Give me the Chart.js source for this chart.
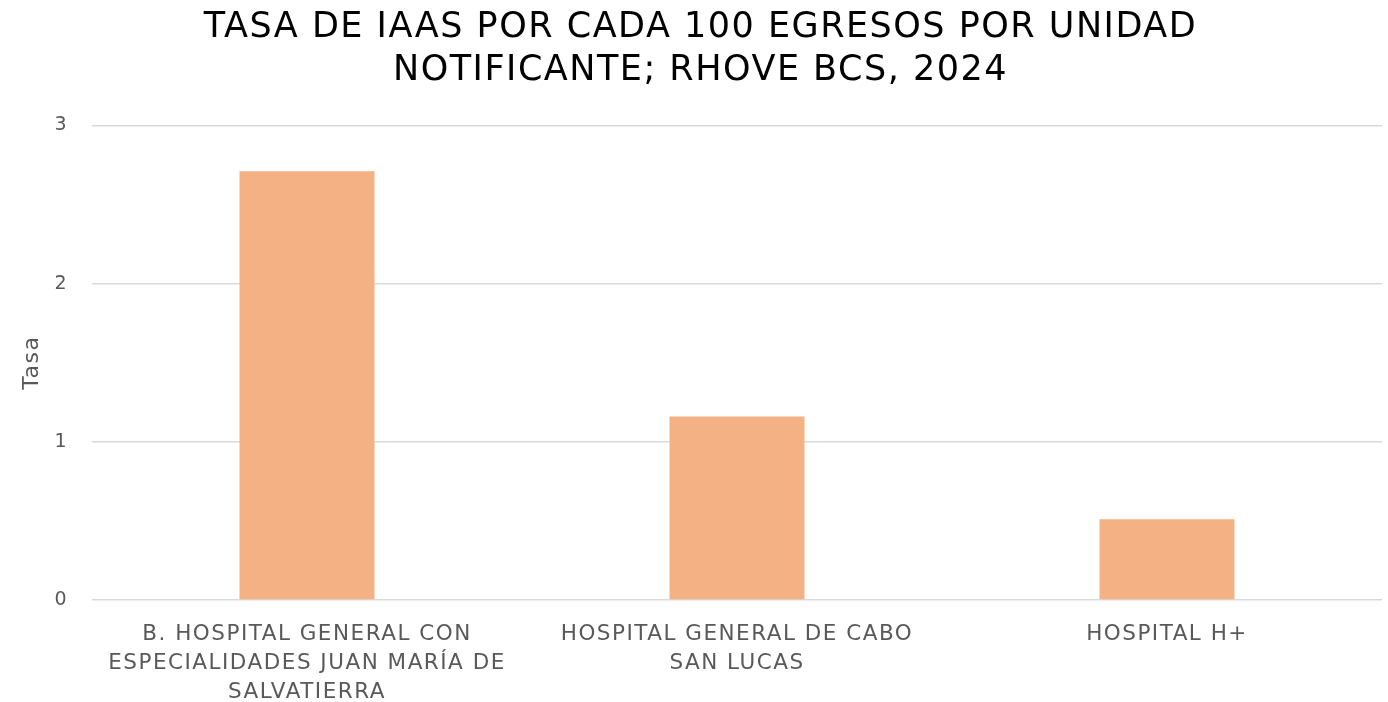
<!DOCTYPE html>
<html>
<head>
<meta charset="utf-8">
<script src="https://cdn.jsdelivr.net/npm/chart.js@4"></script>
<style>
  html, body { margin: 0; padding: 0; background: #ffffff; }
  #wrap { width: 1388px; height: 702px; position: relative; }
</style>
</head>
<body>
<div id="wrap"><canvas id="chart"></canvas></div>
<script>
// Data
const unidades = [
  ["B. HOSPITAL GENERAL CON", "ESPECIALIDADES JUAN MARÍA DE", "SALVATIERRA"],
  ["HOSPITAL GENERAL DE CABO", "SAN LUCAS"],
  ["HOSPITAL H+"],
];
const tasas = [2.71, 1.16, 0.51];
const yTicks = [0, 1, 2, 3];

const FONT = "'DejaVu Sans', 'Open Sans', sans-serif";
const GRID = "#d9d9d9";
const TEXT = "#595959";

// the original font is wider than DejaVu, so space the letters out a bit
const wideText = {
  id: "wideText",
  beforeLayout(chart) {
    chart.ctx.letterSpacing = "1.5px";
  },
  beforeDraw(chart) {
    chart.ctx.letterSpacing = "1.5px";
  },
};

const ctx = document.getElementById("chart").getContext("2d");
new Chart(ctx, {
  type: "bar",
  data: {
    labels: unidades,
    datasets: [
      {
        label: "Tasa",
        data: tasas,
        backgroundColor: "#f4b183",
        borderWidth: 0,
        categoryPercentage: 1,
        barPercentage: 0.314,
      },
    ],
  },
  plugins: [wideText],
  options: {
    responsive: true,
    maintainAspectRatio: false,
    animation: false,
    layout: {
      padding: { top: 7, right: 6, bottom: 0, left: 19 },
    },
    scales: {
      y: {
        min: yTicks[0],
        max: yTicks[yTicks.length - 1],
        afterBuildTicks: (axis) => {
          axis.ticks = yTicks.map((v) => ({ value: v }));
        },
        afterFit: (axis) => {
          axis.width = 73;
        },
        border: { display: false },
        grid: { color: GRID, lineWidth: 1.5, drawTicks: false },
        ticks: {
          color: TEXT,
          padding: 24,
          font: { family: FONT, size: 19 },
        },
        title: {
          display: true,
          text: "Tasa",
          color: TEXT,
          padding: 0,
          font: { family: FONT, size: 22 },
        },
      },
      x: {
        afterFit: (axis) => {
          axis.height = 102;
        },
        border: { display: false },
        grid: { display: false },
        ticks: {
          color: TEXT,
          maxRotation: 0,
          autoSkip: false,
          padding: 12,
          font: { family: FONT, size: 21.5, lineHeight: 1.35 },
        },
      },
    },
    plugins: {
      legend: { display: false },
      tooltip: { enabled: false },
      title: {
        display: true,
        text: [
          "TASA DE IAAS POR CADA 100 EGRESOS POR UNIDAD",
          "NOTIFICANTE; RHOVE BCS, 2024",
        ],
        color: "#000000",
        padding: { top: 0, bottom: 33 },
        font: { family: FONT, size: 35, weight: "normal", lineHeight: 1.22 },
      },
    },
  },
});
</script>
</body>
</html>
